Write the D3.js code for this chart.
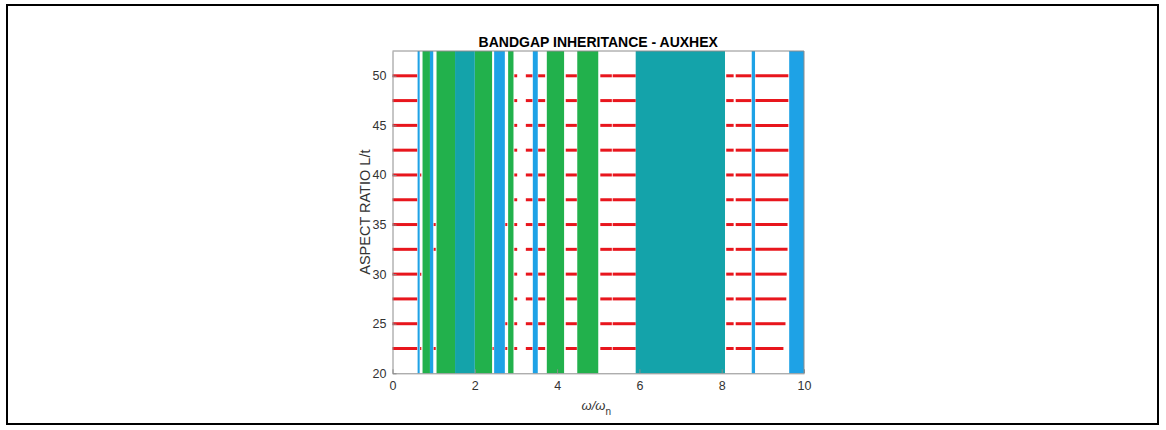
<!DOCTYPE html>
<html>
<head>
<meta charset="utf-8">
<script src="https://cdn.jsdelivr.net/npm/d3@7"></script>
<style>
  html, body { margin: 0; padding: 0; background: #fff; }
  svg { display: block; font-family: "Liberation Sans", Arial, sans-serif; }
</style>
</head>
<body>
<svg id="chart" width="1166" height="430"></svg>
<script>
// ---- data ----
const xTicks = [0, 2, 4, 6, 8, 10];
const yTicks = [20, 25, 30, 35, 40, 45, 50];
const aspectRows = [22.5, 25, 27.5, 30, 32.5, 35, 37.5, 40, 42.5, 45, 47.5, 50];
const rowEnds = [9.50, 9.55, 9.57, 9.58, 9.60, 9.60, 9.62, 9.62, 9.62, 9.62, 9.62, 9.62];
const blueBands = [[0.61, 0.66], [0.91, 0.99], [2.47, 2.73], [3.41, 3.53], [8.73, 8.81], [9.64, 10]];
const greenBands = [[0.73, 0.91], [1.07, 1.52], [2.00, 2.42], [2.81, 2.94], [3.75, 4.17], [4.49, 5.00]];
const tealBands = [[1.52, 2.00], [5.91, 8.08]];
const passSegments = [[0, 0.60], [2.96, 3.03], [3.24, 3.40], [3.54, 3.71], [4.21, 4.48],
                      [5.05, 5.33], [5.35, 5.91], [8.11, 8.29], [8.34, 8.72]];
const extraRows = [40, 30, 22.5, 35, 32.5, 22.5, 35, 25, 22.5, 22.5];
const extraSegs = [[0.67, 0.70], [0.67, 0.70], [0.67, 0.70],
                   [1.00, 1.05], [1.00, 1.05], [1.00, 1.05],
                   [2.74, 2.79], [2.74, 2.79], [2.74, 2.79],
                   [2.43, 2.46]];
const lastSegStart = 8.82;

// ---- layout ----
const svg = d3.select("#chart");
const L = 392.5, R = 804, T = 51, B = 373.3;
const x = d3.scaleLinear().domain([0, 10]).range([L, R]);
const y = d3.scaleLinear().domain([20, 52.5]).range([B, T]);

// outer border
svg.append("rect").attr("x", 7).attr("y", 5).attr("width", 1151).attr("height", 419)
  .attr("fill", "none").attr("stroke", "#000").attr("stroke-width", 2);

const g = svg.append("g");

function bands(data, color) {
  g.selectAll(null).data(data).enter().append("rect")
    .attr("x", d => x(d[0])).attr("width", d => x(d[1]) - x(d[0]))
    .attr("y", y(52.5)).attr("height", y(20) - y(52.5))
    .attr("fill", color);
}
bands(greenBands, "#22b14c");
bands(tealBands, "#14a3aa");
bands(blueBands, "#1ea2e6");

// red pass-band segments
const segs = [];
aspectRows.forEach((r, i) => {
  passSegments.forEach(s => segs.push({r, a: s[0], b: s[1]}));
  segs.push({r, a: lastSegStart, b: rowEnds[i]});
});
extraRows.forEach((r, i) => segs.push({r, a: extraSegs[i][0], b: extraSegs[i][1]}));
g.selectAll(null).data(segs).enter().append("line")
  .attr("x1", d => x(d.a)).attr("x2", d => x(d.b))
  .attr("y1", d => y(d.r)).attr("y2", d => y(d.r))
  .attr("stroke", "#e8161d").attr("stroke-width", 3);

// axes
const axisColor = "#8c8c8c";
const textColor = "#333333";
const xAxis = svg.append("g").attr("transform", `translate(0,${B})`)
  .call(d3.axisBottom(x).tickValues(xTicks).tickSizeInner(-4).tickSizeOuter(0).tickPadding(8));
const yAxis = svg.append("g").attr("transform", `translate(${L},0)`)
  .call(d3.axisLeft(y).tickValues(yTicks).tickSizeInner(-4).tickSizeOuter(0).tickPadding(6));
[xAxis, yAxis].forEach(a => {
  a.select(".domain").attr("stroke", axisColor);
  a.selectAll(".tick line").attr("stroke", axisColor);
  a.selectAll(".tick text").attr("fill", textColor).style("font-size", "12.5px")
    .style("font-family", "'Liberation Sans', Arial, sans-serif");
});
// top and right frame
svg.append("line").attr("x1", L).attr("x2", R).attr("y1", T).attr("y2", T).attr("stroke", axisColor);
svg.append("line").attr("x1", R).attr("x2", R).attr("y1", T).attr("y2", B).attr("stroke", axisColor);

// title
svg.append("text").attr("x", (L + R) / 2).attr("y", 47).attr("text-anchor", "middle")
  .style("font-size", "14px").style("font-weight", "bold").attr("fill", "#000")
  .text("BANDGAP INHERITANCE - AUXHEX");

// y label
svg.append("text").attr("transform", `translate(370,${(T + B) / 2}) rotate(-90)`)
  .attr("text-anchor", "middle").style("font-size", "14.5px").attr("fill", textColor)
  .text("ASPECT RATIO L/t");

// x label
const xl = svg.append("text").attr("x", (L + R) / 2 - 2).attr("y", 410).attr("text-anchor", "middle")
  .style("font-size", "13px").attr("fill", textColor);
xl.append("tspan").style("font-style", "italic").text("ω/ω");
xl.append("tspan").attr("dy", 5).style("font-size", "10px").text("n");
</script>
</body>
</html>
